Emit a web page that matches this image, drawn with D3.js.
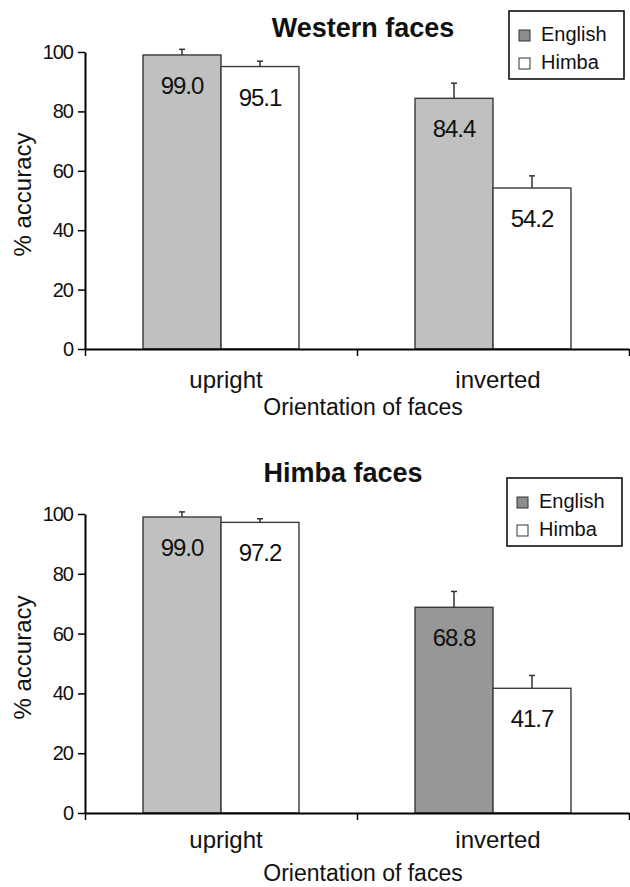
<!DOCTYPE html>
<html>
<head>
<meta charset="utf-8">
<script src="https://cdn.jsdelivr.net/npm/d3@7"></script>
<style>
  body { margin: 0; background: #fff; }
  svg { display: block; font-family: "Liberation Sans", Arial, sans-serif; }
</style>
</head>
<body>
<svg id="canvas" width="630" height="887"></svg>
<script>
// data
let orientations = ['upright', 'inverted'];
let groups = ['English', 'Himba'];
let yTicks = [0, 20, 40, 60, 80, 100];

let westernEnglish = [99.0, 84.4];
let westernHimba = [95.1, 54.2];
let westernEnglishErr = [1.9, 5.1];
let westernHimbaErr = [1.8, 4.1];

let himbaEnglish = [99.0, 68.8];
let himbaHimba = [97.2, 41.7];
let himbaEnglishErr = [1.7, 5.3];
let himbaHimbaErr = [1.2, 4.3];

let canvas = d3.select('#canvas');

let drawPanel = (p) => {
  let g = canvas.append('g');

  let x = d3.scaleBand().domain(orientations).range([85, 629]);
  let xInner = d3.scaleBand().domain(groups).range([0, x.bandwidth()]).paddingOuter(0.744);
  let y = d3.scaleLinear().domain([0, 100]).range([p.bottom, p.top]);

  let rows = orientations.map((o, i) => {
    return [
      { o: o, grp: 'English', v: p.english[i], err: p.englishErr[i], fill: p.englishFill[i] },
      { o: o, grp: 'Himba', v: p.himba[i], err: p.himbaErr[i], fill: '#ffffff' }
    ];
  }).flat();

  // bars
  g.selectAll('rect.bar')
    .data(rows)
    .enter()
    .append('rect')
    .attr('class', 'bar')
    .attr('x', (d) => x(d.o) + xInner(d.grp))
    .attr('y', (d) => y(d.v))
    .attr('width', xInner.bandwidth())
    .attr('height', (d) => y(0) - y(d.v))
    .attr('fill', (d) => d.fill)
    .attr('stroke', '#3a3a3a')
    .attr('stroke-width', 1.4);

  // error bars (upper half only)
  let cx = (d) => x(d.o) + xInner(d.grp) + xInner.bandwidth() / 2;
  g.selectAll('line.err')
    .data(rows)
    .enter()
    .append('line')
    .attr('x1', cx)
    .attr('x2', cx)
    .attr('y1', (d) => y(d.v))
    .attr('y2', (d) => y(d.v + d.err))
    .attr('stroke', '#333')
    .attr('stroke-width', 1.5);
  g.selectAll('line.cap')
    .data(rows)
    .enter()
    .append('line')
    .attr('x1', (d) => cx(d) - 3)
    .attr('x2', (d) => cx(d) + 3)
    .attr('y1', (d) => y(d.v + d.err))
    .attr('y2', (d) => y(d.v + d.err))
    .attr('stroke', '#333')
    .attr('stroke-width', 1.5);

  // value labels
  g.selectAll('text.val')
    .data(rows)
    .enter()
    .append('text')
    .attr('x', cx)
    .attr('y', (d) => y(d.v) + 39)
    .attr('text-anchor', 'middle')
    .style('font-size', '24px')
    .style('letter-spacing', '-1px')
    .attr('fill', '#111')
    .text((d) => d.v.toFixed(1));

  // y axis
  let yAxis = g.append('g')
    .attr('transform', 'translate(85,0)')
    .call(d3.axisLeft(y).tickValues(yTicks).tickSize(7).tickSizeOuter(0).tickPadding(5));
  yAxis.selectAll('text')
    .style('font-size', '20px')
    .style('letter-spacing', '-1px')
    .attr('fill', '#111')
    .attr('font-family', null);
  yAxis.select('.domain').attr('stroke-width', 2);
  yAxis.selectAll('.tick line').attr('stroke-width', 1.5);

  // x axis, ticks at band edges
  let xEdge = d3.scaleLinear().domain([0, 2]).range([85, 629]);
  let xAxis = g.append('g')
    .attr('transform', 'translate(0,' + p.bottom + ')')
    .call(d3.axisBottom(xEdge).ticks(2).tickFormat('').tickSize(7).tickSizeOuter(0));
  xAxis.select('.domain').attr('stroke-width', 2);
  xAxis.selectAll('.tick line').attr('stroke-width', 1.5);

  g.selectAll('text.cat')
    .data(orientations)
    .enter()
    .append('text')
    .attr('x', (d) => x(d) + x.bandwidth() / 2 + 5)
    .attr('y', p.bottom + p.catDy)
    .attr('text-anchor', 'middle')
    .style('font-size', '24px')
    .attr('fill', '#111')
    .text((d) => d);

  g.append('text')
    .attr('x', 363)
    .attr('y', p.bottom + p.titleDy)
    .attr('text-anchor', 'middle')
    .style('font-size', '23px')
    .attr('fill', '#111')
    .text('Orientation of faces');

  g.append('text')
    .attr('transform', 'translate(31,' + ((p.top + p.bottom) / 2 - 6) + ') rotate(-90)')
    .attr('text-anchor', 'middle')
    .style('font-size', '24px')
    .attr('fill', '#111')
    .text('% accuracy');

  // panel title
  g.append('text')
    .attr('x', p.titleX)
    .attr('y', p.titleY)
    .attr('text-anchor', 'middle')
    .style('font-size', '27px')
    .style('font-weight', 'bold')
    .attr('fill', '#111')
    .text(p.title);

  // legend
  let lg = g.append('g').attr('transform', 'translate(' + p.legendX + ',' + p.legendY + ')');
  lg.append('rect')
    .attr('width', 115)
    .attr('height', 68)
    .attr('fill', '#fff')
    .attr('stroke', '#111')
    .attr('stroke-width', 1.6);
  let legendFill = ['#8c8c8c', '#ffffff'];
  let item = lg.selectAll('g.item')
    .data(groups)
    .enter()
    .append('g')
    .attr('transform', (d, i) => 'translate(0,' + (i * 28) + ')');
  item.append('rect')
    .attr('x', 10)
    .attr('y', 19)
    .attr('width', 11)
    .attr('height', 11)
    .attr('fill', (d, i) => legendFill[i])
    .attr('stroke', '#333')
    .attr('stroke-width', 1);
  item.append('text')
    .attr('x', 32)
    .attr('y', 30)
    .style('font-size', '20px')
    .attr('fill', '#111')
    .text((d) => d);
};

drawPanel({
  title: 'Western faces', titleX: 363, titleY: 37,
  top: 52, bottom: 349, catDy: 39, titleDy: 66,
  legendX: 509, legendY: 11,
  english: westernEnglish, himba: westernHimba,
  englishErr: westernEnglishErr, himbaErr: westernHimbaErr,
  englishFill: ['#c0c0c0', '#c0c0c0']
});

drawPanel({
  title: 'Himba faces', titleX: 343, titleY: 482,
  top: 514, bottom: 813, catDy: 35, titleDy: 68,
  legendX: 507, legendY: 478,
  english: himbaEnglish, himba: himbaHimba,
  englishErr: himbaEnglishErr, himbaErr: himbaHimbaErr,
  englishFill: ['#c0c0c0', '#979797']
});
</script>
</body>
</html>
